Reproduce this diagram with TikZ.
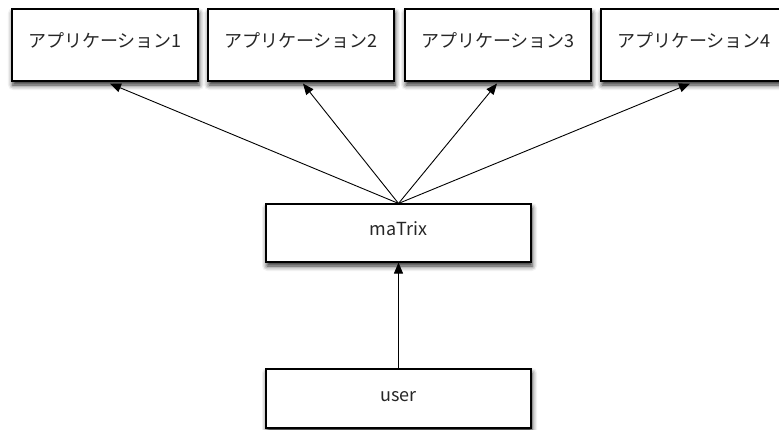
\documentclass[tikz,border=0pt]{standalone}
\usepackage{fontspec}
\setmainfont{Noto Sans CJK JP}
\usetikzlibrary{shadows.blur,arrows.meta}
\tikzset{
  shade box/.style={draw=black, line width=1.1pt, fill=white,
    blur shadow={shadow xshift=1pt, shadow yshift=-4pt, shadow blur radius=5pt, shadow opacity=85},
    font=\fontsize{18}{20}\selectfont, text=black!85,
    text height=14pt, text depth=9pt, inner sep=0pt},
  appbox/.style={shade box, minimum width=186pt, minimum height=72pt},
  widebox/.style={shade box, minimum width=265pt, minimum height=58pt},
  link/.style={-{Triangle[length=11pt,width=9pt]}, line width=0.9pt}
}
\begin{document}
\begin{tikzpicture}[x=1pt,y=-1pt]
\useasboundingbox (0,0) rectangle (779,429);
\begin{scope}
\clip (0,0) rectangle (779,429);
% top row of application boxes
\node[appbox] (b1) at (105,45) {アプリケーション1};
\node[appbox] (b2) at (301,45) {アプリケーション2};
\node[appbox] (b3) at (498,45) {アプリケーション3};
\node[appbox] (b4) at (694,45) {アプリケーション4};
% middle and bottom boxes
\node[widebox] (m) at (398.5,233) {maTrix};
\node[widebox, minimum height=59pt] (u) at (398.5,398.5) {user};
\end{scope}
% connectors
\draw[link] (m.north) -- ([xshift=5pt,yshift=-2pt]b1.south);
\draw[link] (m.north) -- ([xshift=2pt,yshift=-2pt]b2.south);
\draw[link] (m.north) -- ([xshift=-1pt,yshift=-2pt]b3.south);
\draw[link] (m.north) -- ([xshift=-4pt,yshift=-2pt]b4.south);
\draw[link] (u.north) -- (m.south);
\end{tikzpicture}
\end{document}
